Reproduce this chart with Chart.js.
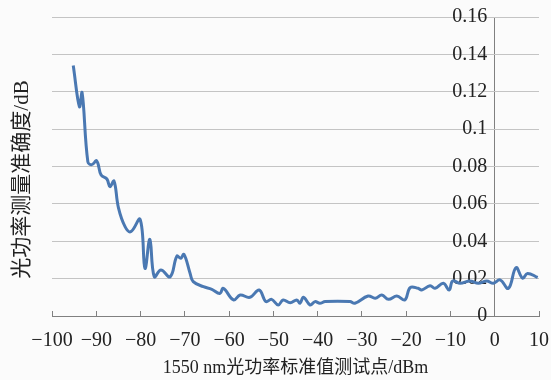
<!DOCTYPE html>
<html>
<head>
<meta charset="utf-8">
<script src="https://cdn.jsdelivr.net/npm/chart.js@4"></script>
<style>
  html, body { margin: 0; padding: 0; background: #fbfbfb; }
  #box { width: 551px; height: 380px; }
</style>
</head>
<body>
<div id="box"><canvas id="chart" width="551" height="380"></canvas></div>
<script>
// test points (dBm) and measured accuracy (dB)
const testPoints = [
  -95.2, -93.8, -93.2, -91.9, -91.0, -89.9, -88.9, -87.6, -86.9, -86.0,
  -85.0, -83.5, -82.2, -80.1, -79.0, -77.9, -76.9, -75.4, -73.3, -71.8,
  -70.9, -70.2, -68.8, -68.1, -65.8, -63.9, -62.1, -61.3, -59.0, -57.5,
  -55.3, -53.2, -51.7, -50.4, -48.9, -47.8, -46.2, -44.7, -44.0, -43.2,
  -41.7, -40.6, -39.5, -38.3, -32.7, -31.6, -28.6, -27.0, -25.5, -24.0,
  -22.1, -20.3, -19.1, -17.3, -16.5, -14.6, -13.5, -11.6, -10.3, -9.5,
  -7.8, -5.6, -3.7, -1.8, -0.3, 1.2, 3.1, 4.8, 6.3, 7.4, 9.7
];
const accuracy = [
  0.134, 0.112, 0.1195, 0.0825, 0.081, 0.083, 0.0754, 0.0733, 0.0692, 0.0722,
  0.058, 0.0478, 0.0451, 0.0517, 0.0255, 0.041, 0.021, 0.0246, 0.021, 0.032,
  0.0309, 0.033, 0.0228, 0.0184, 0.0157, 0.0143, 0.0121, 0.0148, 0.0086, 0.0112,
  0.010, 0.0139, 0.0077, 0.0089, 0.0059, 0.0086, 0.0071, 0.0086, 0.0068, 0.010,
  0.0059, 0.0077, 0.0068, 0.0077, 0.0077, 0.0068, 0.0107, 0.0095, 0.0112, 0.0089,
  0.0107, 0.0086, 0.0152, 0.0148, 0.0139, 0.0162, 0.0148, 0.0175, 0.0139, 0.0187,
  0.0175, 0.0187, 0.0175, 0.0187, 0.0175, 0.0193, 0.0148, 0.0259, 0.0202, 0.0228, 0.0206
];
const xRange = [-100, 10];
const yRange = [0, 0.16];
const xTitle = '1550 nm光功率标准值测试点/dBm';
const yTitle = '光功率测量准确度/dB';

const FONT = '"Liberation Serif", "Times New Roman", "Noto Sans CJK SC", serif';
const TEXT = '#222';
const AXIS = '#808080';

function minusSign(v){
    return v < 0 ? '\u2212' + Math.abs(v) : String(v);
}

function shortNumber(v){
    return String(Number(v.toFixed(2)));
}

// the y title sits a bit below the middle of the plot in the original
const nudgeTitle = {
    id: 'nudgeTitle',
    afterLayout(chart){
        const s = chart.scales.yLabel;
        s.top += 13;
        s.bottom += 13;
    }
};

const points = testPoints.map((x, i) => ({x: x, y: accuracy[i]}));

const ctx = document.getElementById('chart').getContext('2d');
new Chart(ctx, {
    type: 'line',
    data: {
        datasets: [{
            data: points,
            borderColor: '#4a78b2',
            borderWidth: 3,
            pointRadius: 0,
            tension: 0.4,
            fill: false
        }]
    },
    options: {
        responsive: false,
        animation: false,
        layout: { padding: { left: 0, right: 12, top: 17, bottom: 0 } },
        plugins: { legend: { display: false }, tooltip: { enabled: false } },
        scales: {
            x: {
                type: 'linear',
                position: 'bottom',
                min: xRange[0],
                max: xRange[1],
                ticks: {
                    stepSize: 10,
                    autoSkip: false,
                    callback: minusSign,
                    color: TEXT,
                    font: { family: FONT, size: 20 },
                    padding: 18,
                    maxRotation: 0
                },
                // only the line at 0 is shown: it is the vertical axis of the original
                grid: {
                    drawOnChartArea: true,
                    tickLength: -5,
                    tickColor: AXIS,
                    color: (c) => (c.tick && c.tick.value === 0) ? AXIS : 'rgba(0,0,0,0)'
                },
                border: { color: AXIS },
                title: {
                    display: true,
                    text: xTitle,
                    color: TEXT,
                    font: { family: FONT, size: 18 },
                    padding: { top: 0, bottom: 1 }
                },
                afterFit: function(scale){
                    scale.height = 64;
                    scale.paddingRight = 10;
                }
            },
            y: {
                type: 'linear',
                position: { x: -1.7 },
                min: yRange[0],
                max: yRange[1],
                ticks: {
                    stepSize: 0.02,
                    callback: shortNumber,
                    color: TEXT,
                    font: { family: FONT, size: 20 }
                },
                grid: { color: '#c4c4c4', drawTicks: false },
                border: { display: false }
            },
            yLabel: {
                type: 'linear',
                axis: 'y',
                position: 'left',
                ticks: { display: false },
                grid: { display: false },
                border: { display: false },
                title: {
                    display: true,
                    text: yTitle,
                    color: TEXT,
                    font: { family: FONT, size: 21 },
                    padding: { top: 10, bottom: 0 }
                },
                afterFit: function(scale){ scale.width = 52; }
            }
        }
    },
    plugins: [nudgeTitle]
});
</script>
</body>
</html>
